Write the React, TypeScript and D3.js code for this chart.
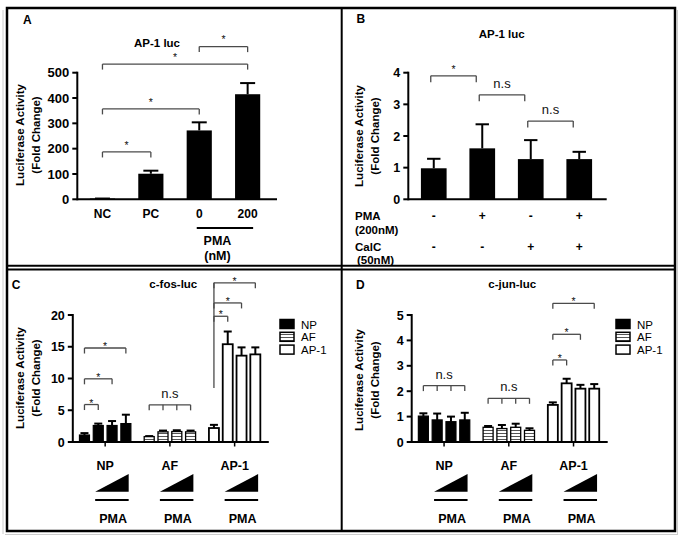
import React from "react";
import * as d3 from "d3";

const FONT = "'Liberation Sans', Arial, Helvetica, sans-serif";

// ---------- Panel A : AP-1 luc ----------
const aCategories = ["NC", "PC", "0", "200"];
const aValues = [3, 101, 272, 415];
const aErrors = [0, 12, 32, 44];
const aTicks = [0, 100, 200, 300, 400, 500];
const aBrFrom = [0, 0, 0, 2];
const aBrTo = [1, 2, 3, 3];
const aBrLevel = [187, 357, 534, 603];
const aBrLabel = ["*", "*", "*", "*"];

// ---------- Panel B : AP-1 luc (PMA / CalC) ----------
const bCategories = ["c1", "c2", "c3", "c4"];
const bValues = [0.98, 1.61, 1.27, 1.27];
const bErrors = [0.3, 0.76, 0.6, 0.23];
const bTicks = [0, 1, 2, 3, 4];
const bPMA = ["-", "+", "-", "+"];
const bCalC = ["-", "-", "+", "+"];
const bBrFrom = [0, 1, 2];
const bBrTo = [1, 2, 3];
const bBrLevel = [3.9, 3.3, 2.47];
const bBrLabel = ["*", "n.s", "n.s"];

// ---------- Panels C & D ----------
const groups = ["NP", "AF", "AP-1"];
const doses = ["d1", "d2", "d3", "d4"];

// C: c-fos-luc
const cNP = [1.1, 2.6, 2.6, 2.9];
const cNPErr = [0.3, 0.3, 0.7, 1.4];
const cAF = [0.85, 1.6, 1.65, 1.6];
const cAFErr = [0.08, 0.2, 0.2, 0.2];
const cAP1 = [2.2, 15.4, 13.6, 13.8];
const cAP1Err = [0.5, 2.0, 1.3, 1.1];
const cTicks = [0, 5, 10, 15, 20];
const cBrGroup = [0, 0, 0, 1, 2, 2, 2];
const cBrTo = [1, 2, 3, 3, 1, 2, 3];
const cBrLevel = [5.9, 9.95, 14.8, 5.85, 19.8, 21.9, 25.07];
const cBrLabel = ["*", "*", "*", "n.s", "*", "*", "*"];
const cBrAllLegs = [false, false, false, true, false, false, false];
const cLongLegBottom = 8.5;

// D: c-jun-luc
const dNP = [1.02, 0.87, 0.8, 0.87];
const dNPErr = [0.11, 0.25, 0.2, 0.28];
const dAF = [0.58, 0.53, 0.58, 0.46];
const dAFErr = [0.05, 0.14, 0.14, 0.08];
const dAP1 = [1.46, 2.31, 2.1, 2.1];
const dAP1Err = [0.1, 0.18, 0.15, 0.18];
const dTicks = [0, 1, 2, 3, 4, 5];
const dBrGroup = [0, 1, 2, 2, 2];
const dBrTo = [3, 3, 1, 2, 3];
const dBrLevel = [2.22, 1.72, 3.23, 4.24, 5.46];
const dBrLabel = ["n.s", "n.s", "*", "*", "*"];
const dBrAllLegs = [true, true, false, false, false];

const BR = "#4a4a4a";

function YAxis({ y, x, ticks, fs }: any) {
  const [r0, r1] = y.range();
  return (
    <g>
      <line x1={x} x2={x} y1={r0} y2={r1} stroke="#000" strokeWidth={2} strokeLinecap="square" />
      {ticks.map((t: number) => (
        <g key={t}>
          <line x1={x - 5} x2={x} y1={y(t)} y2={y(t)} stroke="#000" strokeWidth={2} />
          <text x={x - 8} y={y(t)} dy="0.36em" textAnchor="end" fontSize={fs} fontWeight="bold">
            {t}
          </text>
        </g>
      ))}
    </g>
  );
}

function YTitle({ cx, cy }: any) {
  return (
    <g fontSize={11.5} fontWeight="bold">
      <text transform={`translate(${cx - 7.5},${cy}) rotate(-90)`} textAnchor="middle" dy="0.35em">
        Luciferase Activity
      </text>
      <text transform={`translate(${cx + 8},${cy}) rotate(-90)`} textAnchor="middle" dy="0.35em">
        (Fold Change)
      </text>
    </g>
  );
}

function Bracket({ xs, y, leg, label, starDy }: any) {
  const x1 = xs[0];
  const x2 = xs[xs.length - 1];
  const isStar = label === "*";
  return (
    <g>
      <line x1={x1} x2={x2} y1={y} y2={y} stroke={BR} strokeWidth={1.3} />
      {xs.map((x: number, i: number) => (
        <line key={i} x1={x} x2={x} y1={y} y2={y + leg} stroke={BR} strokeWidth={1.3} />
      ))}
      <text
        x={(x1 + x2) / 2}
        y={isStar ? y + starDy : y - 7}
        textAnchor="middle"
        fontSize={isStar ? 10.5 : 13}
        fill="#111"
      >
        {label}
      </text>
    </g>
  );
}

function ErrorBar({ x, y0, y1, cap }: any) {
  return (
    <g stroke="#000" strokeWidth={2}>
      <line x1={x} x2={x} y1={y0} y2={y1} />
      <line x1={x - cap} x2={x + cap} y1={y1} y2={y1} />
    </g>
  );
}

function PanelA() {
  const x = d3.scaleBand().domain(aCategories).range([77.3, 272.8]).paddingInner(0.48).paddingOuter(0.26);
  const y = d3.scaleLinear().domain([0, 500]).range([199.3, 72.7]);
  const bw = x.bandwidth();
  const c = (i: number) => (x(aCategories[i]) as number) + bw / 2;
  const c0 = c(2);
  const c200 = c(3);
  return (
    <g>
      <text x={23} y={24} fontSize={12} fontWeight="bold">A</text>
      <text x={157} y={47} textAnchor="middle" fontSize={11.5} fontWeight="bold">AP-1 luc</text>
      <YTitle cx={27.5} cy={135} />
      {aCategories.map((k, i) => (
        <g key={k}>
          <ErrorBar x={c(i)} y0={y(aValues[i])} y1={y(aValues[i] + aErrors[i])} cap={7.5} />
          <rect x={x(k)} width={bw} y={y(aValues[i])} height={y(0) - y(aValues[i])} fill="#000" />
          <text x={c(i)} y={217.5} textAnchor="middle" fontSize={12} fontWeight="bold">{k}</text>
        </g>
      ))}
      <YAxis y={y} x={77.3} ticks={aTicks} fs={13} />
      <line x1={77.3} x2={277} y1={y(0)} y2={y(0)} stroke="#000" strokeWidth={2} />
      {aBrFrom.map((f, i) => (
        <Bracket key={i} xs={[c(f), c(aBrTo[i])]} y={y(aBrLevel[i])} leg={5.5} label={aBrLabel[i]} starDy={-3.3} />
      ))}
      <line x1={c0 - 2.5} x2={c200 + 5.5} y1={228} y2={228} stroke="#000" strokeWidth={2.2} />
      <text x={(c0 + c200) / 2 - 6} y={245} textAnchor="middle" fontSize={12.5} fontWeight="bold">PMA</text>
      <text x={(c0 + c200) / 2 - 6} y={260} textAnchor="middle" fontSize={12.5} fontWeight="bold">(nM)</text>
    </g>
  );
}

function PanelB() {
  const x = d3.scaleBand().domain(bCategories).range([408.3, 604.7]).paddingInner(0.47).paddingOuter(0.26);
  const y = d3.scaleLinear().domain([0, 4]).range([199.3, 72.7]);
  const bw = x.bandwidth();
  const c = (i: number) => (x(bCategories[i]) as number) + bw / 2;
  return (
    <g>
      <text x={356.5} y={22.7} fontSize={12} fontWeight="bold">B</text>
      <text x={501.7} y={37.5} textAnchor="middle" fontSize={11.5} fontWeight="bold">AP-1 luc</text>
      <YTitle cx={366.5} cy={136} />
      {bCategories.map((k, i) => (
        <g key={k}>
          <ErrorBar x={c(i)} y0={y(bValues[i])} y1={y(bValues[i] + bErrors[i])} cap={6.7} />
          <rect x={x(k)} width={bw} y={y(bValues[i])} height={y(0) - y(bValues[i])} fill="#000" />
          <text x={c(i)} y={219.5} textAnchor="middle" fontSize={12} fontWeight="bold">{bPMA[i]}</text>
          <text x={c(i)} y={251} textAnchor="middle" fontSize={12} fontWeight="bold">{bCalC[i]}</text>
        </g>
      ))}
      <YAxis y={y} x={408.3} ticks={bTicks} fs={12.5} />
      <line x1={408.3} x2={606.7} y1={y(0)} y2={y(0)} stroke="#000" strokeWidth={2} />
      {bBrFrom.map((f, i) => (
        <Bracket key={i} xs={[c(f) - 3, c(bBrTo[i]) - 6]} y={y(bBrLevel[i])} leg={6.5} label={bBrLabel[i]} starDy={-3} />
      ))}
      <g fontSize={11.5} fontWeight="bold">
        <text x={355} y={220}>PMA</text>
        <text x={355} y={234}>(200nM)</text>
        <text x={355} y={250.6}>CalC</text>
        <text x={357} y={264.3}>(50nM)</text>
      </g>
    </g>
  );
}

function GroupedPanel({ ox, letter, title, vals, errs, ticks, yMax, brGroup, brTo, brLevel, brLabel, brAllLegs, longLeg }: any) {
  const axisX = 72.8 + ox;
  const gx = d3.scaleBand().domain(groups).range([axisX, axisX + 194.2]);
  const y = d3.scaleLinear().domain([0, yMax]).range([442, 315]);
  const inner = (g: string) => {
    const gc = (gx(g) as number) + gx.bandwidth() / 2;
    return d3.scaleBand().domain(doses).range([gc - 27.6, gc + 27.6]).paddingInner(0.275).paddingOuter(0.1375);
  };
  const fills = ["#000", "url(#stripes)", "#fff"];
  const strokeW = [1.2, 1.3, 1.8];
  const center = (gi: number, di: number) => {
    const s = inner(groups[gi]);
    return (s(doses[di]) as number) + s.bandwidth() / 2;
  };
  const legendX = ox === 0 ? 280 : 616;
  return (
    <g>
      <text x={ox === 0 ? 11.7 : 356} y={289} fontSize={12} fontWeight="bold">{letter}</text>
      <text x={173.3 + ox} y={287.5} textAnchor="middle" fontSize={11.5} fontWeight="bold">{title}</text>
      <YTitle cx={ox === 0 ? 27.5 : 366.5} cy={ox === 0 ? 378 : 380} />
      {groups.map((g, gi) => {
        const s = inner(g);
        const bw = s.bandwidth();
        const gc = (gx(g) as number) + gx.bandwidth() / 2;
        return (
          <g key={g}>
            {doses.map((d, di) => {
              const v = vals[gi][di];
              const e = errs[gi][di];
              const cx = (s(d) as number) + bw / 2;
              return (
                <g key={d}>
                  <ErrorBar x={cx} y0={y(v)} y1={y(v + e)} cap={4} />
                  <rect
                    x={s(d)}
                    width={bw}
                    y={y(v)}
                    height={y(0) - y(v)}
                    fill={fills[gi]}
                    stroke="#000"
                    strokeWidth={strokeW[gi]}
                  />
                </g>
              );
            })}
            <line x1={gc} x2={gc} y1={442} y2={446.5} stroke="#000" strokeWidth={1.5} />
            <text x={gc} y={470} textAnchor="middle" fontSize={12.5} fontWeight="bold">{g}</text>
            <path d={`M${gc - 10},491.7 L${gc + 23.5},491.7 L${gc + 23.5},474 Z`} fill="#000" />
            <line x1={gc - 10} x2={gc + 23.5} y1={500} y2={500} stroke="#000" strokeWidth={2.2} />
            <text x={gc + 8} y={523} textAnchor="middle" fontSize={12.5} fontWeight="bold">PMA</text>
          </g>
        );
      })}
      <YAxis y={y} x={axisX} ticks={ticks} fs={12.5} />
      <line x1={axisX} x2={axisX + 196} y1={442} y2={442} stroke="#000" strokeWidth={2} />
      {brGroup.map((gi: number, i: number) => {
        const xs = brAllLegs[i]
          ? doses.map((_, di) => center(gi, di))
          : [center(gi, 0), center(gi, brTo[i])];
        return (
          <Bracket key={i} xs={xs} y={y(brLevel[i])} leg={5.5} label={brLabel[i]} starDy={2} />
        );
      })}
      {longLeg != null && (
        <line
          x1={center(2, 0)}
          x2={center(2, 0)}
          y1={y(d3.max(brLevel.filter((_: any, i: number) => brGroup[i] === 2)) as number)}
          y2={y(longLeg)}
          stroke={BR}
          strokeWidth={1.3}
        />
      )}
      {groups.map((g, gi) => (
        <g key={g}>
          <rect x={legendX} y={319.5 + gi * 12.8} width={14} height={9} fill={fills[gi]} stroke="#000" strokeWidth={1.5} />
          <text x={legendX + 21} y={328.5 + gi * 12.5} fontSize={11.5}>{g}</text>
        </g>
      ))}
    </g>
  );
}

export default function App() {
  return (
    <svg
      width={683}
      height={540}
      style={{ position: "absolute", left: 0, top: 0, background: "#fff" }}
      fontFamily={FONT}
    >
      <defs>
        <pattern id="stripes" width={4} height={3} patternUnits="userSpaceOnUse">
          <rect width={4} height={3} fill="#fff" />
          <line x1={0} x2={4} y1={1.5} y2={1.5} stroke="#555" strokeWidth={1} />
        </pattern>
      </defs>
      <rect x={0} y={0} width={683} height={540} fill="#fff" />
      {/* shadows */}
      <line x1={3} x2={3} y1={10} y2={534} stroke="#ccc" strokeWidth={1} />
      <line x1={5} x2={678} y1={534.5} y2={534.5} stroke="#ccc" strokeWidth={1} />
      <line x1={677.5} x2={677.5} y1={10} y2={534} stroke="#ccc" strokeWidth={1} />
      {/* frame */}
      <rect x={7} y={8} width={668} height={523} fill="none" stroke="#000" strokeWidth={2.5} />
      <line x1={341.7} x2={341.7} y1={8} y2={531} stroke="#000" strokeWidth={2} />
      <line x1={7} x2={675} y1={265.8} y2={265.8} stroke="#000" strokeWidth={2} />
      <line x1={7} x2={675} y1={269.5} y2={269.5} stroke="#000" strokeWidth={2} />
      <PanelA />
      <PanelB />
      <GroupedPanel
        ox={0}
        letter="C"
        title="c-fos-luc"
        vals={[cNP, cAF, cAP1]}
        errs={[cNPErr, cAFErr, cAP1Err]}
        ticks={cTicks}
        yMax={20}
        brGroup={cBrGroup}
        brTo={cBrTo}
        brLevel={cBrLevel}
        brLabel={cBrLabel}
        brAllLegs={cBrAllLegs}
        longLeg={cLongLegBottom}
      />
      <GroupedPanel
        ox={338.9}
        letter="D"
        title="c-jun-luc"
        vals={[dNP, dAF, dAP1]}
        errs={[dNPErr, dAFErr, dAP1Err]}
        ticks={dTicks}
        yMax={5}
        brGroup={dBrGroup}
        brTo={dBrTo}
        brLevel={dBrLevel}
        brLabel={dBrLabel}
        brAllLegs={dBrAllLegs}
        longLeg={null}
      />
    </svg>
  );
}
